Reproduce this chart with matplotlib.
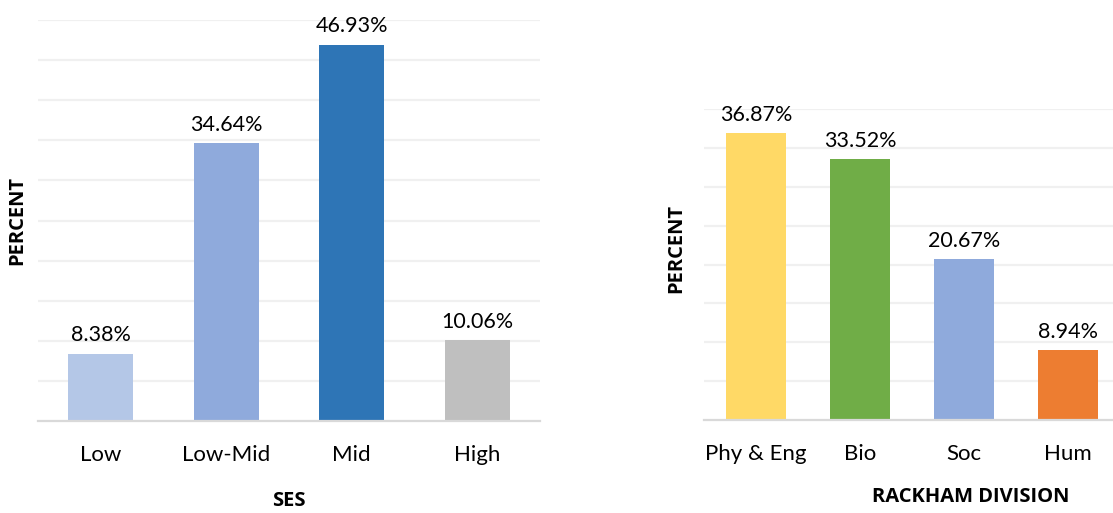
import matplotlib
matplotlib.use("Agg")
import matplotlib.pyplot as plt

plt.rcParams["font.family"] = ["Lato", "DejaVu Sans"]

# SES distribution
ses_labels = ["Low", "Low-Mid", "Mid", "High"]
ses_values = [8.38, 34.64, 46.93, 10.06]
ses_colors = ["#B4C7E7", "#8FAADC", "#2E75B6", "#BFBFBF"]

# Rackham division distribution
div_labels = ["Phy & Eng", "Bio", "Soc", "Hum"]
div_values = [36.87, 33.52, 20.67, 8.94]
div_colors = ["#FFD966", "#70AD47", "#8FAADC", "#ED7D31"]

BOLD = dict(fontsize=14.5, fontweight="bold", family=["Open Sans", "DejaVu Sans"])


def style(ax, ymax, xlabel, xlabel_pos, ylabel_pos):
    ax.set_ylim(0, ymax)
    ax.set_xlim(-0.5, 3.5)
    ax.set_yticks(range(5, ymax + 1, 5))
    ax.yaxis.grid(True, color="#F0F0F0", lw=1.6)
    ax.set_axisbelow(True)
    ax.tick_params(axis="y", length=0, labelleft=False)
    ax.tick_params(axis="x", length=0, pad=17, labelsize=16)
    for s in ["top", "right", "left"]:
        ax.spines[s].set_visible(False)
    ax.spines["bottom"].set_color("#D9D9D9")
    ax.spines["bottom"].set_linewidth(1.6)
    ax.set_xlabel(xlabel, **BOLD)
    ax.xaxis.set_label_coords(*xlabel_pos)
    ax.set_ylabel("PERCENT", **BOLD)
    ax.yaxis.set_label_coords(*ylabel_pos)


fig = plt.figure(figsize=(11.13, 5.13), dpi=100)

ax1 = fig.add_axes([0.0341, 0.1793, 0.451, 0.7817])
b1 = ax1.bar(range(4), ses_values, width=0.52, color=ses_colors)
ax1.set_xticks(range(4), ses_labels)
ax1.bar_label(b1, labels=[f"{v:.2f}%" for v in ses_values], padding=6, fontsize=15.5)
style(ax1, 50, "SES", (0.5, -0.175), (-0.022, 0.5))

ax2 = fig.add_axes([0.6325, 0.1813, 0.3738, 0.6062])
b2 = ax2.bar(range(4), div_values, width=0.58, color=div_colors)
ax2.set_xticks(range(4), div_labels)
ax2.bar_label(b2, labels=[f"{v:.2f}%" for v in div_values], padding=6, fontsize=15.5)
style(ax2, 40, "RACKHAM DIVISION", (0.64, -0.215), (-0.043, 0.553))

fig.savefig("out.png", dpi=100)
